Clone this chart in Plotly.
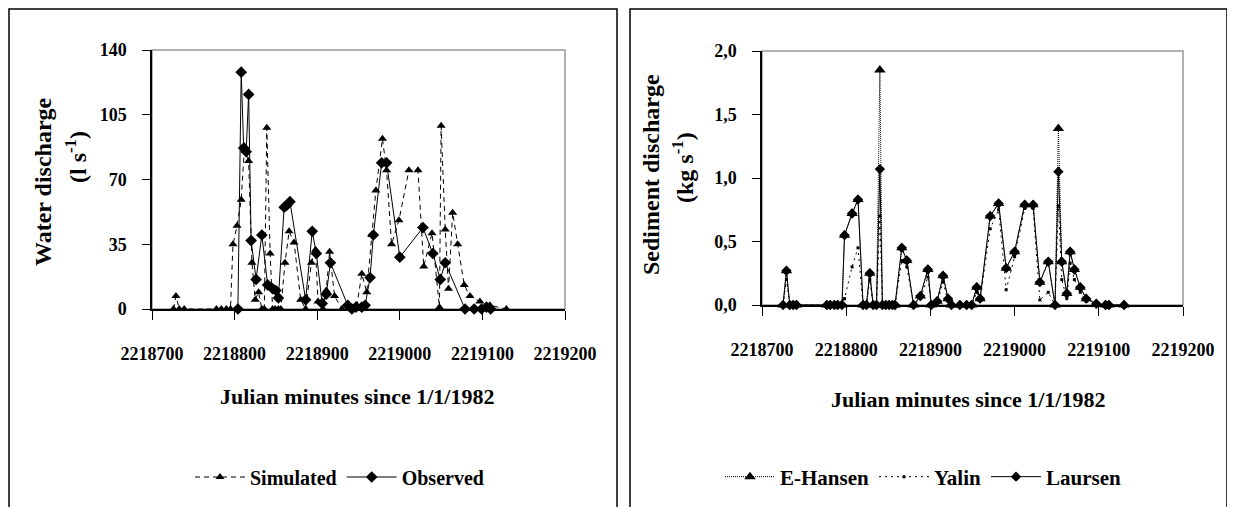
import plotly.graph_objects as go

# ---------------- data (left panel: water discharge, l s-1) ----------------
sim_t = [2218726, 2218729, 2218733, 2218739, 2218778, 2218784, 2218790, 2218795,
         2218798, 2218803, 2218808, 2218812, 2218817, 2218821, 2218825, 2218829,
         2218833, 2218836, 2218839, 2218843, 2218846, 2218849, 2218853, 2218856,
         2218861, 2218866, 2218872, 2218880, 2218886, 2218893, 2218898, 2218901,
         2218907, 2218911, 2218915, 2218921, 2218930, 2218940, 2218948, 2218954,
         2218960, 2218966, 2218971, 2218979, 2218984, 2218990, 2218999, 2219011,
         2219022, 2219029, 2219039, 2219048, 2219050, 2219055, 2219059, 2219064,
         2219070, 2219078, 2219085, 2219097, 2219109, 2219129]
sim_q = [0, 7, 0, 0, 0, 0, 0, 0,
         35, 45, 59, 88, 80, 25, 5, 9,
         0, 0, 98, 30, 0, 0, 0, 0,
         25, 42, 36, 5, 0, 25, 32, 4,
         0, 10, 31, 7, 0, 0, 2, 19,
         9, 40, 64, 92, 75, 35, 48, 75,
         75, 23, 41, 1, 99, 43, 11, 52,
         35, 13, 7, 4, 2, 0]

obs_t = [2218804, 2218808, 2218811, 2218814, 2218817, 2218820, 2218826, 2218833,
         2218840, 2218846, 2218850, 2218853, 2218860, 2218863, 2218867, 2218886,
         2218894, 2218899, 2218906, 2218911, 2218916, 2218937, 2218942, 2218947,
         2218954, 2218958, 2218964, 2218968, 2218978, 2218984, 2219000, 2219028,
         2219040, 2219049, 2219055, 2219079, 2219090, 2219099, 2219105, 2219110]
obs_q = [0, 128, 87, 85, 116, 37, 16, 40,
         13, 11, 10, 6, 55, 56, 58, 5,
         42, 30, 3, 8, 25, 2, 0, 1,
         1, 2, 17, 40, 79, 79, 28, 44,
         30, 16, 25, 0, 0, 0, 1, 0]

# ---------------- data (right panel: sediment discharge, kg s-1) ----------------
sed_t = [2218725, 2218729, 2218733, 2218737, 2218741, 2218777, 2218781, 2218786,
         2218790, 2218795, 2218798, 2218807, 2218814, 2218820, 2218824, 2218828,
         2218832, 2218836, 2218840, 2218843, 2218847, 2218851, 2218855, 2218858,
         2218866, 2218872, 2218880, 2218888, 2218897, 2218901, 2218908, 2218915,
         2218921, 2218925, 2218935, 2218943, 2218949, 2218955, 2218959, 2218971,
         2218981, 2218990, 2219000, 2219012, 2219022, 2219030, 2219040, 2219048,
         2219052, 2219056, 2219062, 2219066, 2219071, 2219078, 2219085, 2219097,
         2219108, 2219112, 2219130]
ehansen = [0, 0.27, 0, 0, 0, 0, 0, 0,
           0, 0, 0.55, 0.72, 0.83, 0, 0, 0.25,
           0, 0, 1.85, 0, 0, 0, 0, 0,
           0.45, 0.35, 0, 0.07, 0.28, 0, 0.03, 0.23,
           0.05, 0, 0, 0, 0, 0.14, 0.05, 0.70,
           0.80, 0.29, 0.42, 0.79, 0.79, 0.18, 0.34, 0,
           1.39, 0.34, 0.09, 0.42, 0.28, 0.14, 0.05, 0.01,
           0, 0, 0]
yalin = [0, 0.20, 0, 0, 0, 0, 0, 0,
         0, 0, 0.05, 0.30, 0.45, 0, 0, 0.20,
         0, 0, 0.70, 0, 0, 0, 0, 0,
         0.35, 0.30, 0, 0.05, 0.22, 0, 0.02, 0.18,
         0.03, 0, 0, 0, 0, 0.10, 0.04, 0.60,
         0.75, 0.12, 0.38, 0.76, 0.76, 0.04, 0.10, 0,
         0.78, 0.20, 0.05, 0.33, 0.20, 0.10, 0.03, 0,
         0, 0, 0]
laursen = [0, 0.27, 0, 0, 0, 0, 0, 0,
           0, 0, 0.55, 0.72, 0.83, 0, 0, 0.25,
           0, 0, 1.07, 0, 0, 0, 0, 0,
           0.45, 0.35, 0, 0.07, 0.28, 0, 0.03, 0.23,
           0.05, 0, 0, 0, 0, 0.14, 0.05, 0.70,
           0.80, 0.29, 0.42, 0.79, 0.79, 0.18, 0.34, 0,
           1.05, 0.34, 0.09, 0.42, 0.28, 0.14, 0.05, 0.01,
           0, 0, 0]

x_ticks = [2218700, 2218800, 2218900, 2219000, 2219100, 2219200]
x_ticktext = [str(v) for v in x_ticks]
yl_ticks = [0, 35, 70, 105, 140]
yr_ticks = [0, 0.5, 1.0, 1.5, 2.0]
yr_ticktext = ["0,0", "0,5", "1,0", "1,5", "2,0"]

# ---------------- figure ----------------
OFF = 8  # page body margin
W, H = 1235 - OFF, 507 - OFF
FONT = "Liberation Serif"


def px(x):
    return (x - OFF) / W


def py(y):
    return 1 - (y - OFF) / H


fig = go.Figure()

fig.add_trace(go.Scatter(x=sim_t, y=sim_q, name="Simulated", mode="lines+markers",
                         line=dict(color="black", width=1, dash="5px,4px"),
                         marker=dict(symbol="triangle-up", size=8, color="black"),
                         xaxis="x", yaxis="y", cliponaxis=False, legend="legend"))
fig.add_trace(go.Scatter(x=obs_t, y=obs_q, name="Observed", mode="lines+markers",
                         line=dict(color="black", width=1),
                         marker=dict(symbol="diamond", size=9, color="black"),
                         xaxis="x", yaxis="y", cliponaxis=False, legend="legend"))

fig.add_trace(go.Scatter(x=sed_t, y=laursen, name="Laursen", mode="lines+markers",
                         line=dict(color="black", width=1),
                         marker=dict(symbol="diamond", size=8, color="black"),
                         xaxis="x2", yaxis="y2", cliponaxis=False, legend="legend2"))
fig.add_trace(go.Scatter(x=sed_t, y=yalin, name="Yalin", mode="lines+markers",
                         line=dict(color="black", width=1, dash="2px,4px"),
                         marker=dict(symbol="square", size=3, color="black"),
                         xaxis="x2", yaxis="y2", cliponaxis=False, legend="legend2"))
fig.add_trace(go.Scatter(x=sed_t, y=ehansen, name="E-Hansen", mode="lines+markers",
                         line=dict(color="black", width=1, dash="1px,1px"),
                         marker=dict(symbol="triangle-up", size=10, color="black"),
                         xaxis="x2", yaxis="y2", cliponaxis=False, legend="legend2"))

tickfont = dict(family=FONT, size=18, color="black", weight="bold")
common_x = dict(range=[2218700, 2219200], tickvals=x_ticks, ticktext=x_ticktext,
                showline=True, linecolor="black", linewidth=1.5, ticks="outside",
                ticklen=9, tickcolor="black", tickwidth=1, showgrid=False,
                zeroline=False, tickfont=tickfont, ticklabelstandoff=19, automargin=False)
common_y = dict(showline=True, linecolor="black", linewidth=1.5, ticks="outside",
                ticklen=8, tickcolor="black", tickwidth=1, showgrid=False,
                zeroline=False, tickfont=tickfont, ticklabelstandoff=12, automargin=False)

fig.update_layout(
    width=W, height=H, margin=dict(l=0, r=0, t=0, b=0, pad=0, autoexpand=False),
    paper_bgcolor="white", plot_bgcolor="white",
    font=dict(family=FONT, color="black"),
    xaxis=dict(domain=[px(152), px(565)], anchor="y", **common_x),
    yaxis=dict(domain=[py(309), py(50)], anchor="x", range=[0, 140],
               tickvals=yl_ticks, **common_y),
    xaxis2=dict(domain=[762 / W - OFF / W, px(1183)], anchor="y2", **common_x),
    yaxis2=dict(domain=[py(305), py(51)], anchor="x2", range=[0, 2.0],
                tickvals=yr_ticks, ticktext=yr_ticktext, **common_y),
    legend=dict(orientation="h", x=px(190), y=py(477), xanchor="left", yanchor="middle",
                font=dict(family=FONT, size=20, color="black", weight="bold"),
                bgcolor="rgba(0,0,0,0)", traceorder="normal", itemwidth=50),
    legend2=dict(orientation="h", x=px(720), y=py(477), xanchor="left", yanchor="middle",
                 font=dict(family=FONT, size=21, color="black", weight="bold"),
                 bgcolor="rgba(0,0,0,0)", traceorder="reversed", itemwidth=50),
)

# outer chart frames and grey plot-area borders
fig.add_shape(type="rect", xref="paper", yref="paper", x0=px(9), x1=px(617),
              y0=-0.02, y1=py(9), line=dict(color="black", width=1.5), layer="below")
fig.add_shape(type="rect", xref="paper", yref="paper", x0=px(630), x1=px(1227),
              y0=-0.02, y1=py(9), line=dict(color="black", width=1.5), layer="below")
fig.add_shape(type="rect", xref="x domain", yref="y domain", x0=0, x1=1, y0=0, y1=1,
              line=dict(color="#999999", width=1.5), layer="below")
fig.add_shape(type="rect", xref="x2 domain", yref="y2 domain", x0=0, x1=1, y0=0, y1=1,
              line=dict(color="#999999", width=1.5), layer="below")

# axis titles
tfont = dict(family=FONT, size=22, color="black", weight="bold")
ann = dict(xref="paper", yref="paper", showarrow=False, xanchor="center", yanchor="middle")
fig.add_annotation(text="Julian minutes since 1/1/1982", x=px(357), y=py(396),
                   font=tfont, **ann)
fig.add_annotation(text="Julian minutes since 1/1/1982", x=px(968), y=py(399),
                   font=tfont, **ann)
yfont = dict(family=FONT, size=24, color="black", weight="bold")
fig.add_annotation(text="Water discharge", x=px(43), y=py(182), textangle=-90,
                   font=yfont, **ann)
fig.add_annotation(text="(l s<sup>-1</sup>)", x=px(76), y=py(157), textangle=-90,
                   font=yfont, **ann)
fig.add_annotation(text="Sediment discharge", x=px(651), y=py(175), textangle=-90,
                   font=yfont, **ann)
fig.add_annotation(text="(kg s<sup>-1</sup>)", x=px(683), y=py(168), textangle=-90,
                   font=yfont, **ann)

fig.write_html("out.html")
